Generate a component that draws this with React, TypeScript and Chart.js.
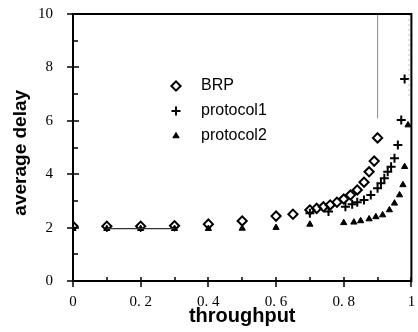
import React, { useEffect, useRef } from 'react';
import { Chart, registerables } from 'chart.js';
import { drawPoint } from 'chart.js/helpers';

Chart.register(...registerables);

// ---- data ----
const brpX = [0, 0.1, 0.2, 0.3, 0.4, 0.5, 0.6, 0.65, 0.70, 0.72, 0.74, 0.76, 0.78, 0.80, 0.82, 0.84, 0.86, 0.875, 0.89, 0.90];
const brpY = [2.05, 2.05, 2.05, 2.07, 2.13, 2.25, 2.43, 2.5, 2.66, 2.72, 2.78, 2.85, 2.95, 3.07, 3.22, 3.41, 3.7, 4.09, 4.49, 5.36];

const p1X = [0.70, 0.755, 0.805, 0.825, 0.84, 0.86, 0.88, 0.90, 0.91, 0.92, 0.93, 0.94, 0.95, 0.96, 0.97, 0.98];
const p1Y = [2.54, 2.6, 2.78, 2.87, 2.95, 3.03, 3.22, 3.47, 3.66, 3.85, 4.09, 4.28, 4.6, 5.09, 6.03, 7.57];

const p2X = [0, 0.1, 0.2, 0.3, 0.4, 0.5, 0.6, 0.70, 0.80, 0.83, 0.85, 0.875, 0.895, 0.915, 0.935, 0.95, 0.965, 0.975, 0.98, 0.99];
const p2Y = [1.96, 1.96, 1.96, 1.96, 1.96, 1.97, 2.0, 2.12, 2.18, 2.2, 2.25, 2.32, 2.4, 2.47, 2.66, 2.91, 3.22, 3.6, 4.28, 5.84];

const guideX = [0.9, 0.9];
const guideY = [10, 6.1];
const edgeGuideX = [0.993, 0.993];
const edgeGuideY = [10, 6.8];

const seriesNames = ['BRP', 'protocol1', 'protocol2'];
const xTickValues = [0, 0.2, 0.4, 0.6, 0.8, 1];
const xTickLabels = ['0', '0. 2', '0. 4', '0. 6', '0. 8', '1'];
const yTickValues = [0, 2, 4, 6, 8, 10];
const yTickLabels = ['0', '2', '4', '6', '8', '10'];
const xTitle = 'throughput';
const yTitle = 'average delay  ';

const pts = (xs: number[], ys: number[]) => xs.map((x, i) => ({ x, y: ys[i] }));

const frameAndLegend = {
  id: 'frameAndLegend',
  afterDatasetsDraw(chart: any) {
    const { ctx, chartArea: a, scales } = chart;
    const xs = scales.x;
    const ys = scales.y;
    ctx.save();
    ctx.strokeStyle = '#000';
    ctx.lineWidth = 2;
    ctx.strokeRect(a.left, a.top, a.right - a.left, a.bottom - a.top);

    ctx.lineWidth = 1.5;
    for (let i = 0; i <= 10; i++) {
      const px = Math.round(xs.getPixelForValue(i / 10));
      ctx.beginPath();
      if (i % 2 === 0) {
        ctx.moveTo(px, a.bottom + 6);
        ctx.lineTo(px, a.bottom - 4);
      } else {
        ctx.moveTo(px, a.bottom);
        ctx.lineTo(px, a.bottom - 4);
      }
      ctx.stroke();
    }
    for (let i = 0; i <= 10; i++) {
      const py = Math.round(ys.getPixelForValue(i));
      ctx.beginPath();
      if (i % 2 === 0) {
        ctx.moveTo(a.left - 6, py);
        ctx.lineTo(a.left + 6, py);
      } else {
        ctx.moveTo(a.left, py);
        ctx.lineTo(a.left + 5, py);
      }
      ctx.stroke();
    }

    // in-plot legend
    ctx.font = '16px "Liberation Sans", Arial, sans-serif';
    ctx.textBaseline = 'middle';
    ctx.textAlign = 'left';
    seriesNames.forEach((name, i) => {
      const ds = chart.data.datasets.find((d: any) => d.label === name);
      const mx = a.left + 103;
      const tx = a.left + 128;
      const my = a.top + 72 + i * 25;
      ctx.strokeStyle = '#000';
      ctx.fillStyle = ds.backgroundColor;
      ctx.lineWidth = ds.borderWidth;
      drawPoint(ctx, { pointStyle: ds.pointStyle, rotation: 0, radius: ds.pointRadius, borderWidth: ds.borderWidth }, mx, my);
      ctx.fillStyle = '#000';
      ctx.fillText(name, tx, my);
    });
    ctx.restore();
  },
};

export default function App() {
  const ref = useRef<HTMLCanvasElement>(null);
  useEffect(() => {
    if (!ref.current) return;
    const chart = new Chart(ref.current, {
      type: 'scatter',
      data: {
        datasets: [
          {
            label: 'guide',
            data: pts(guideX, guideY),
            showLine: true,
            pointRadius: 0,
            borderColor: '#9a9a9a',
            borderWidth: 1,
          },
          {
            label: 'edgeGuide',
            data: pts(edgeGuideX, edgeGuideY),
            showLine: true,
            pointRadius: 0,
            borderColor: '#c4c4c4',
            borderWidth: 1,
            borderDash: [2, 3],
          },
          {
            label: 'link',
            data: pts(p2X.slice(1, 4), p2Y.slice(1, 4)),
            showLine: true,
            pointRadius: 0,
            borderColor: '#333',
            borderWidth: 1.2,
          },
          {
            label: 'protocol2',
            data: pts(p2X, p2Y),
            pointStyle: 'triangle',
            pointRadius: 3.6,
            backgroundColor: '#000',
            borderColor: '#000',
            borderWidth: 1,
          },
          {
            label: 'protocol1',
            data: pts(p1X, p1Y),
            pointStyle: 'cross',
            pointRadius: 4.5,
            backgroundColor: '#000',
            borderColor: '#000',
            borderWidth: 2,
          },
          {
            label: 'BRP',
            data: pts(brpX, brpY),
            pointStyle: 'rectRot',
            pointRadius: 4.6,
            backgroundColor: 'rgba(255,255,255,0)',
            borderColor: '#000',
            borderWidth: 2,
          },
        ] as any,
      },
      options: {
        responsive: false,
        animation: false,
        events: [],
        layout: { padding: { top: 14, right: 5, left: 0, bottom: 0 } },
        plugins: { legend: { display: false }, tooltip: { enabled: false } },
        scales: {
          x: {
            type: 'linear',
            min: 0,
            max: 1,
            afterFit: (s: any) => { s.height = 51; s.paddingLeft = 0; s.paddingRight = 0; },
            afterBuildTicks: (s: any) => { s.ticks = xTickValues.map((v) => ({ value: v })); },
            grid: { display: false },
            border: { display: false },
            ticks: {
              autoSkip: false,
              maxRotation: 0,
              padding: 4,
              color: '#000',
              font: { family: '"Liberation Serif", "Times New Roman", serif', size: 15 },
              callback: (_v: any, i: number) => xTickLabels[i],
            },
            title: {
              display: true,
              text: xTitle,
              color: '#000',
              font: { family: '"Liberation Sans", Arial, sans-serif', size: 20, weight: 'bold' },
              padding: { top: 0, bottom: 4 },
            },
          },
          y: {
            type: 'linear',
            min: 0,
            max: 10,
            afterFit: (s: any) => { s.width = 73; s.paddingTop = 0; s.paddingBottom = 0; },
            afterBuildTicks: (s: any) => { s.ticks = yTickValues.map((v) => ({ value: v })); },
            grid: { display: false },
            border: { display: false },
            ticks: {
              autoSkip: false,
              padding: 12,
              color: '#000',
              font: { family: '"Liberation Serif", "Times New Roman", serif', size: 15 },
              callback: (_v: any, i: number) => yTickLabels[i],
            },
            title: {
              display: true,
              text: yTitle,
              color: '#000',
              font: { family: '"Liberation Sans", Arial, sans-serif', size: 19, weight: 'bold' },
              padding: { top: 9, bottom: 0 },
            },
          },
        },
      } as any,
      plugins: [frameAndLegend],
    });
    return () => chart.destroy();
  }, []);

  return (
    <div style={{ position: 'absolute', left: 0, top: 0, width: 418, height: 332, background: '#fff' }}>
      <canvas ref={ref} width={418} height={332} />
    </div>
  );
}
